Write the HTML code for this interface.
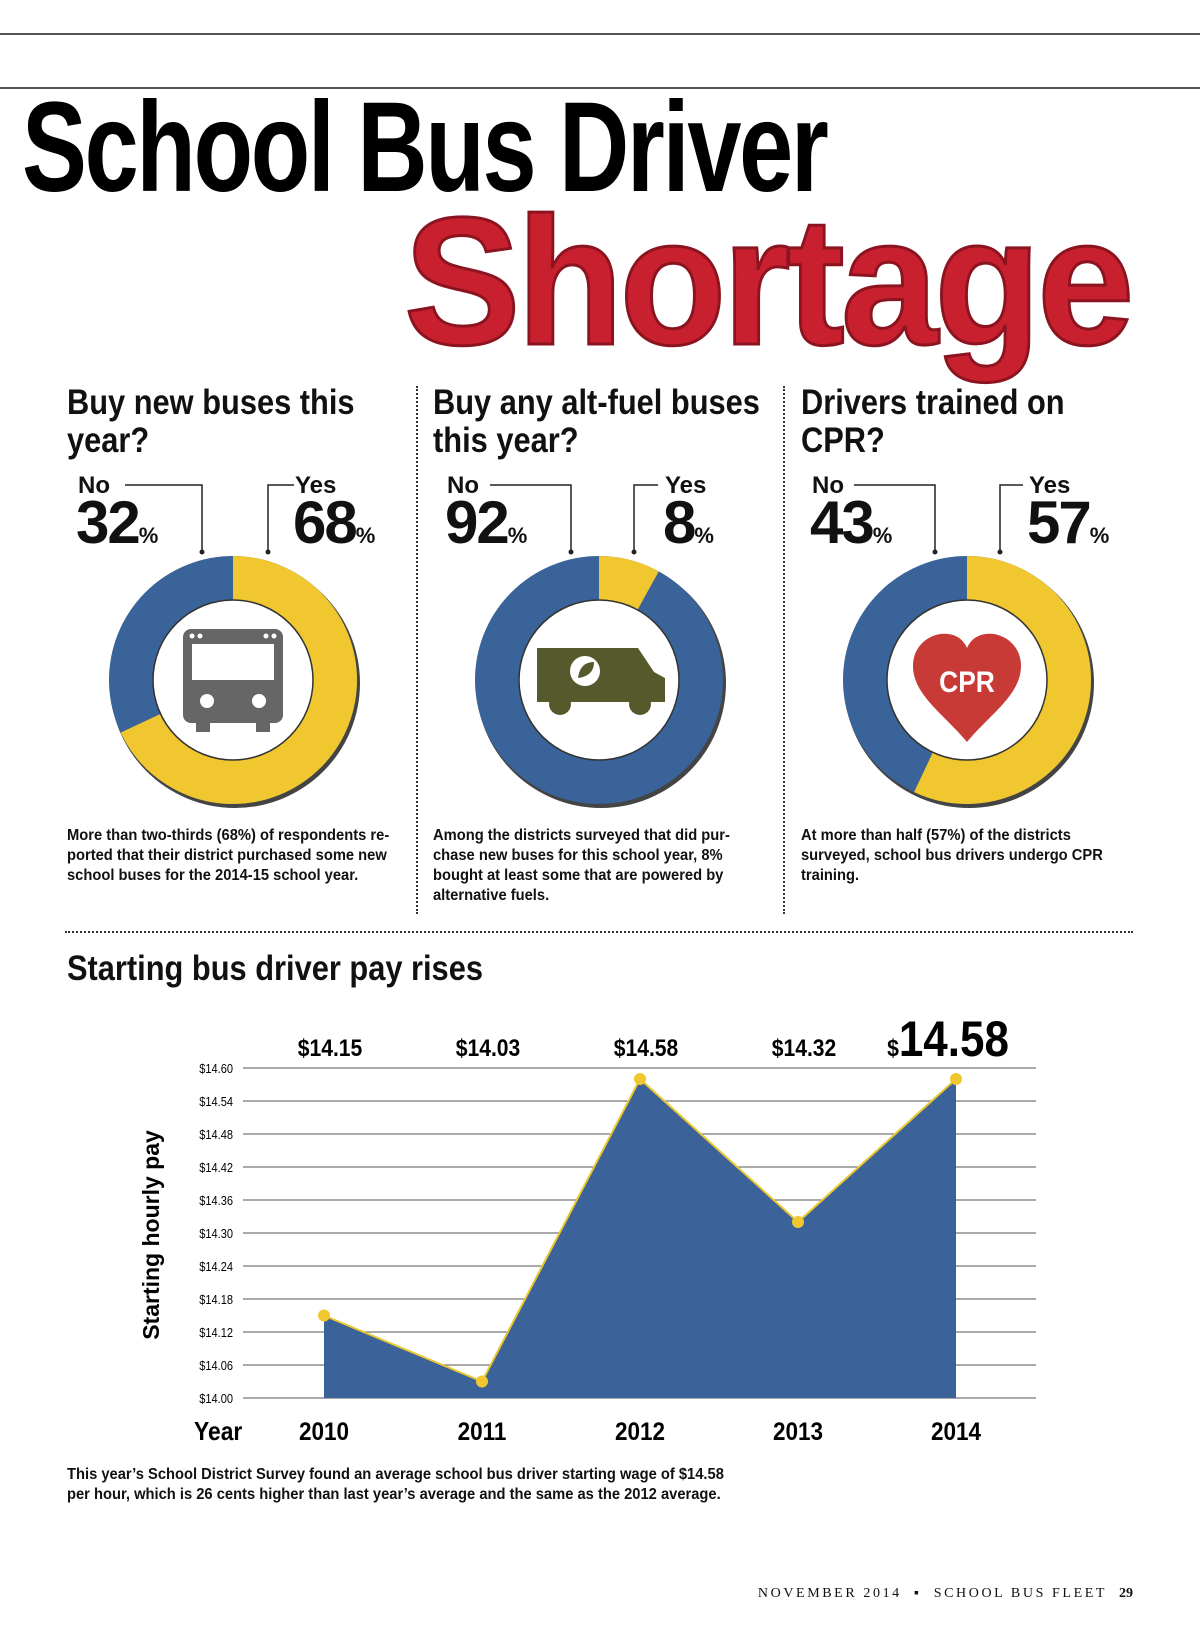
<!DOCTYPE html>
<html><head><meta charset="utf-8"><style>
body{margin:0;background:#fff;}
#page{position:relative;width:1200px;height:1638px;overflow:hidden;font-family:"Liberation Sans Narrow","Liberation Sans",sans-serif;color:#111;}
.abs{position:absolute;}
.hd{font-weight:bold;font-size:35px;line-height:38px;transform:scaleX(.88);transform-origin:left top;white-space:nowrap;}
.lbl{font-weight:bold;font-size:24px;font-family:"Liberation Sans",sans-serif;}
.pct{font-weight:bold;font-size:60px;font-family:"Liberation Sans",sans-serif;letter-spacing:-2px;}
.pct small{font-size:22px;letter-spacing:0;}
.cap{font-weight:bold;font-size:16px;line-height:20px;width:356px;transform:scaleX(.92);transform-origin:left top;}
</style></head><body>
<div id="page">
<div class="abs" style="left:0;top:33px;width:1200px;height:2px;background:#555"></div>
<div class="abs" style="left:0;top:87px;width:1200px;height:2px;background:#555"></div>
<div class="abs" style="left:22px;top:84px;font-weight:bold;font-size:128px;line-height:128px;letter-spacing:-3px;transform:scaleX(.76);transform-origin:left top;white-space:nowrap;color:#000">School Bus Driver</div>
<div class="abs" style="left:404px;top:186px;font-family:'Liberation Sans',sans-serif;font-weight:bold;font-size:182px;line-height:190px;letter-spacing:-4px;color:#c8202f;transform:scaleX(.96);transform-origin:left top;white-space:nowrap;-webkit-text-stroke:3px #8b1420">Shortage</div>

<div class="abs" style="left:416px;top:386px;height:528px;border-left:2px dotted #333"></div>
<div class="abs" style="left:783px;top:386px;height:528px;border-left:2px dotted #333"></div>
<div class="abs" style="left:65px;top:931px;width:1068px;border-top:2px dotted #333"></div>

<svg class="abs" style="left:0;top:0" width="1200" height="930">
<g id="donuts"></g>
<g stroke="#222" stroke-width="1.5" fill="none">
<path d="M125 485 H202 V552"/><path d="M294 485 H268 V552"/>
<path d="M490 485 H571 V552"/><path d="M658 485 H634 V552"/>
<path d="M854 485 H935 V552"/><path d="M1023 485 H1000 V552"/>
</g>
<g fill="#222"><circle cx="202" cy="552" r="2.5"/><circle cx="268" cy="552" r="2.5"/><circle cx="571" cy="552" r="2.5"/><circle cx="634" cy="552" r="2.5"/><circle cx="935" cy="552" r="2.5"/><circle cx="1000" cy="552" r="2.5"/></g>
<g fill="#666">
<rect x="183" y="629" width="100" height="94" rx="8"/>
<rect x="192" y="644" width="82" height="36" fill="#fff"/>
<circle cx="207" cy="701" r="7" fill="#fff"/><circle cx="259" cy="701" r="7" fill="#fff"/>
<rect x="196" y="720" width="14" height="12"/><rect x="256" y="720" width="14" height="12"/>
<circle cx="192" cy="636" r="2.5" fill="#fff"/><circle cx="200" cy="636" r="2.5" fill="#fff"/><circle cx="266" cy="636" r="2.5" fill="#fff"/><circle cx="274" cy="636" r="2.5" fill="#fff"/>
</g>
<g fill="#56592b">
<path d="M537 648 H638 L654 672 L665 678 V702 H537 Z"/>
<circle cx="560" cy="704" r="11"/><circle cx="640" cy="704" r="11"/>
<circle cx="585" cy="671" r="15" fill="#fff"/><path d="M578 678 Q580 662 594 662 Q594 676 578 678 Z" fill="#56592b"/>
</g>
<g>
<path d="M967 742 C945 715 913 695 913 666 C913 644 932 632 948 634 C958 635 964 641 967 648 C970 641 976 635 986 634 C1002 632 1021 644 1021 666 C1021 695 989 715 967 742 Z" fill="#c73a35"/>
<text x="967" y="692" text-anchor="middle" font-family="Liberation Sans,sans-serif" font-weight="bold" font-size="30" fill="#fff" transform="translate(967 0) scale(.88 1) translate(-967 0)">CPR</text>
</g>
</svg>

<div class="abs hd" style="left:67px;top:384px">Buy new buses this<br>year?</div>
<div class="abs hd" style="left:433px;top:384px">Buy any alt-fuel buses<br>this year?</div>
<div class="abs hd" style="left:801px;top:384px">Drivers trained on<br>CPR?</div>

<div class="abs lbl" style="left:78px;top:472px">No</div>
<div class="abs lbl" style="left:295px;top:472px">Yes</div>
<div class="abs lbl" style="left:447px;top:472px">No</div>
<div class="abs lbl" style="left:665px;top:472px">Yes</div>
<div class="abs lbl" style="left:812px;top:472px">No</div>
<div class="abs lbl" style="left:1029px;top:472px">Yes</div>

<div class="abs pct" style="left:76px;top:488px">32<small>%</small></div>
<div class="abs pct" style="left:293px;top:488px">68<small>%</small></div>
<div class="abs pct" style="left:445px;top:488px">92<small>%</small></div>
<div class="abs pct" style="left:663px;top:488px">8<small>%</small></div>
<div class="abs pct" style="left:810px;top:488px">43<small>%</small></div>
<div class="abs pct" style="left:1027px;top:488px">57<small>%</small></div>

<div class="abs cap" style="left:67px;top:826px">More than two-thirds (68%) of respondents re-ported that their district purchased some new school buses for the 2014-15 school year.</div>
<div class="abs cap" style="left:433px;top:826px">Among the districts surveyed that did pur-chase new buses for this school year, 8% bought at least some that are powered by alternative fuels.</div>
<div class="abs cap" style="left:801px;top:826px">At more than half (57%) of the districts surveyed, school bus drivers undergo CPR training.</div>

<div class="abs hd" style="left:67px;top:950px">Starting bus driver pay rises</div>

<svg class="abs" style="left:0;top:990px" width="1200" height="470" id="chart"></svg>

<div class="abs cap" style="left:67px;top:1465px;width:728px">This year’s School District Survey found an average school bus driver starting wage of $14.58 per hour, which is 26 cents higher than last year’s average and the same as the 2012 average.</div>
<div class="abs" style="right:67px;top:1586px;font-family:'Liberation Serif',serif;font-size:14px;letter-spacing:2.6px;white-space:nowrap">NOVEMBER 2014 &nbsp;▪&nbsp; SCHOOL BUS FLEET &nbsp;<b style="letter-spacing:0">29</b></div>
</div>
<script>
const donutYes=[68,8,57];
const donutCx=[233,599,967];
const NS='http://www.w3.org/2000/svg';
const dg=document.getElementById('donuts');
function mk(t,a,p){const e=document.createElementNS(NS,t);for(const k in a)e.setAttribute(k,a[k]);p.appendChild(e);return e;}
donutYes.forEach((y,i)=>{
 const cx=donutCx[i],cy=680,r=102,C=2*Math.PI*r;
 const sh=mk('circle',{cx:cx+2,cy:cy+3,r:125,fill:'#444'},dg);
 
 
 const b=mk('circle',{cx,cy,r,fill:'none',stroke:'#3a6399','stroke-width':44},dg);
 
 
 const s=mk('circle',{cx,cy,r,fill:'none',stroke:'#f0c72f','stroke-width':44,'stroke-dasharray':(C*y/100)+' '+C,transform:`rotate(-90 ${cx} ${cy})`},dg);
 
 
 const inn=mk('circle',{cx,cy,r:80,fill:'#fff',stroke:'#333','stroke-width':1.5},dg);
 
 
});

const years=['2010','2011','2012','2013','2014'];
const pay=[14.15,14.03,14.58,14.32,14.58];
const payLabels=['$14.15','$14.03','$14.58','$14.32','14.58'];
const yTicks=[14.00,14.06,14.12,14.18,14.24,14.30,14.36,14.42,14.48,14.54,14.60];
const svg=document.getElementById('chart');
const x0=324,dx=158,yB=408,yT=78,vMin=14.0,vMax=14.6;
const X=i=>x0+i*dx;
const Y=v=>yB-(v-vMin)/(vMax-vMin)*(yB-yT);
yTicks.forEach(t=>{
 const l=mk('line',{x1:243,x2:1036,y1:Y(t),y2:Y(t),stroke:'#777','stroke-width':1.2},svg);
 
 
 const tx=mk('text',{x:0,y:0,'text-anchor':'end','font-size':13,'font-family':'Liberation Sans,sans-serif',transform:`translate(233 ${Y(t)+5}) scale(.85 1)`},svg);
 tx.textContent='$'+t.toFixed(2);
 
 
});
let d='M'+X(0)+' '+yB;
pay.forEach((v,i)=>d+=' L'+X(i)+' '+Y(v));
d+=' L'+X(pay.length-1)+' '+yB+' Z';
const area=mk('path',{d,fill:'#3b6299'},svg);


const ln=mk('polyline',{points:pay.map((v,i)=>X(i)+','+Y(v)).join(' '),fill:'none',stroke:'#e8c72f','stroke-width':2},svg);


pay.forEach((v,i)=>{
 const c=mk('circle',{cx:X(i),cy:Y(v),r:6,fill:'#f0c72f'},svg);
 
 
 const t=mk('text',{x:0,y:0,'text-anchor':'middle','font-size':25,'font-weight':'bold','font-family':'Liberation Sans,sans-serif',transform:`translate(${X(i)} ${yB+42}) scale(.9 1)`},svg);
 t.textContent=years[i];
 
 
 const last=i===pay.length-1;
 const vt=mk('text',{x:0,y:0,'text-anchor':'middle','font-size':last?50:24,'font-weight':'bold','font-family':'Liberation Sans,sans-serif',transform:`translate(${X(i)+(last?-8:6)} 66) scale(.88 1)`},svg);
 if(last){const ds=mk('tspan',{'font-size':24},vt);ds.textContent='$';const n=mk('tspan',{},vt);n.textContent=payLabels[i];}
 else vt.textContent=payLabels[i];
 
 
});
const yr=mk('text',{x:0,y:0,'font-size':26,'font-weight':'bold','font-family':'Liberation Sans,sans-serif',transform:`translate(194 ${yB+42}) scale(.88 1)`},svg);
yr.textContent='Year';


const yt=mk('text',{x:0,y:0,'text-anchor':'middle','font-size':23,'font-weight':'bold','font-family':'Liberation Sans,sans-serif',transform:'translate(159 245) rotate(-90)'},svg);
yt.textContent='Starting hourly pay';


</script>
</body></html>
